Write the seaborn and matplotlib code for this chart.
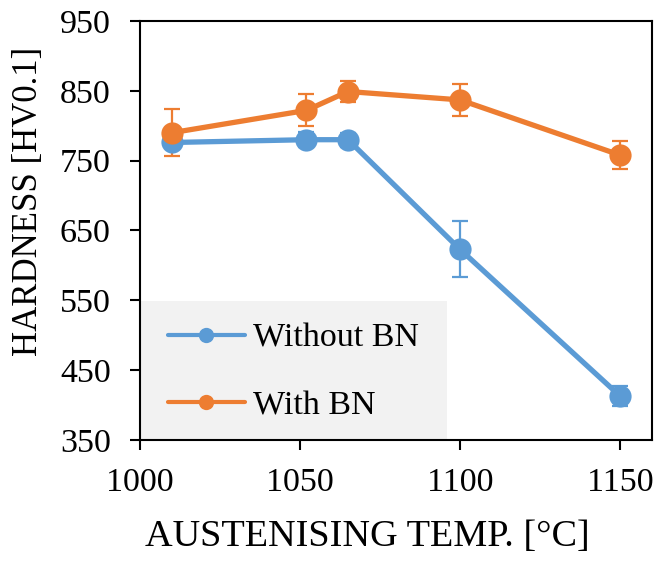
import pandas as pd
import seaborn as sns
import matplotlib.pyplot as plt
from matplotlib.patches import Rectangle

# data
temps = [1010, 1052, 1065, 1100, 1150]
hv_without_bn = [776, 780, 780, 623, 413]
hv_with_bn = [790, 822, 849, 837, 758]
err_without_bn = [8, 11, 10, 40, 14]
err_with_bn = [34, 23, 15, 23, 20]
series_names = ["Without BN", "With BN"]
colors = ["#5B9BD5", "#ED7D31"]

df = pd.DataFrame({
    "temp": temps * 2,
    "hv": hv_without_bn + hv_with_bn,
    "err": err_without_bn + err_with_bn,
    "series": [series_names[0]] * len(temps) + [series_names[1]] * len(temps),
})

sns.set_style("white")
plt.rcParams["font.family"] = ["Liberation Serif", "DejaVu Serif"]
plt.rcParams["text.color"] = "black"
plt.rcParams["axes.labelcolor"] = "black"

fig = plt.figure(figsize=(6.57, 5.64), dpi=100)
ax = fig.add_axes([0.2131, 0.2199, 0.7793, 0.7429])

# grey legend area
ax.add_patch(Rectangle((0, 0), 0.6, 0.332, transform=ax.transAxes,
                       facecolor="#F2F2F2", edgecolor="none", zorder=0))

# error bars first, lines on top
for name, col in zip(series_names, colors):
    sub = df[df["series"] == name]
    ax.errorbar(sub["temp"], sub["hv"], yerr=sub["err"], fmt="none",
                ecolor=col, elinewidth=1.6, capsize=6, capthick=1.6, zorder=2)

sns.lineplot(data=df, x="temp", y="hv", hue="series", hue_order=series_names,
             palette=colors, marker="o", markersize=16, markeredgewidth=0,
             linewidth=3.8, ax=ax, zorder=3)

ax.set_xlim(1000, 1160)
ax.set_ylim(350, 950)
ax.set_xticks([1000, 1050, 1100, 1150])
ax.set_yticks(range(350, 951, 100))
ax.tick_params(axis="both", labelsize=24.5, direction="out", length=7, width=1.5,
               colors="black")
ax.tick_params(axis="y", pad=14, left=True, right=False)
ax.tick_params(axis="x", pad=13, bottom=True, top=False)
for sp in ax.spines.values():
    sp.set_linewidth(1.5)
    sp.set_color("black")

ax.set_xlabel("AUSTENISING TEMP. [°C]", fontsize=27.5)
ax.set_ylabel("HARDNESS [HV0.1]", fontsize=25)
ax.xaxis.set_label_coords(0.444, -0.19)
ax.yaxis.set_label_coords(-0.186, 0.570)

leg = ax.legend(loc="upper left", bbox_to_anchor=(0.0547, 0.279),
                borderaxespad=0, borderpad=0, fontsize=24.5, frameon=False,
                handlelength=2.26, handletextpad=0.24, labelspacing=1.07)
for h in leg.legend_handles:
    h.set_markersize(11)
    h.set_linewidth(3)

fig.savefig("out.png", dpi=100)
